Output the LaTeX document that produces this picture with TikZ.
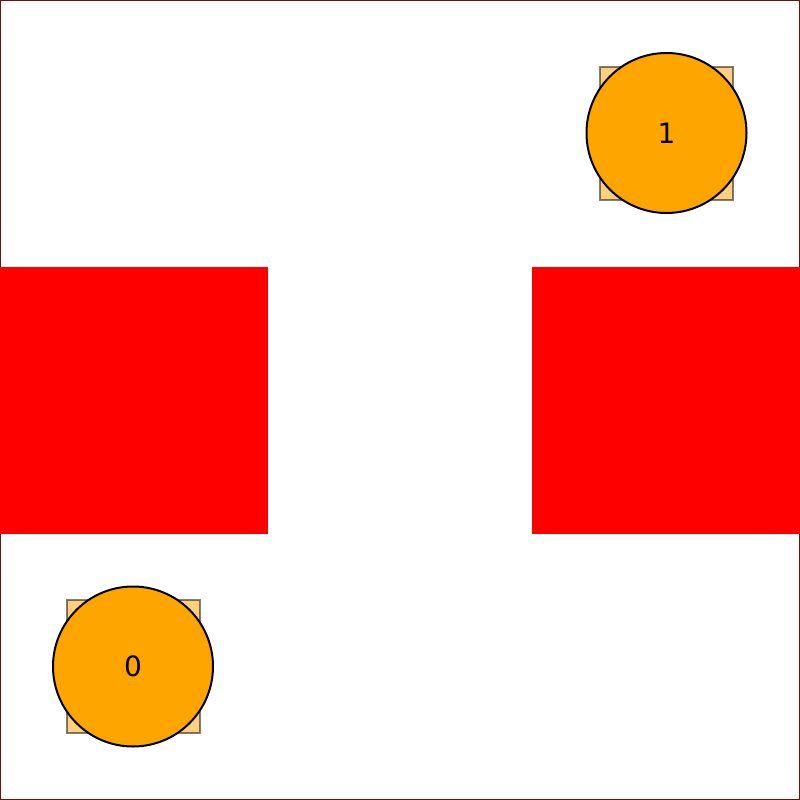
\documentclass[tikz,border=0pt]{standalone}
\usepackage{fontspec}
\setmainfont{DejaVu Sans}
\definecolor{agentorange}{HTML}{FFA500}
\definecolor{frame}{HTML}{6E1010}
\begin{document}
\begin{tikzpicture}[x=1pt,y=-1pt,
  obstacle/.style={fill=red,draw=none},
  footprint/.style={fill=agentorange,fill opacity=0.5,draw=black,draw opacity=0.5,line width=2.5pt},
  agent/.style={circle,fill=agentorange,draw=black,line width=2pt,minimum size=160pt,inner sep=0pt,font=\fontsize{28}{32}\selectfont}]
\useasboundingbox (0,0) rectangle (800,800);
\draw[draw=frame,line width=1.5pt,fill=white] (0,0) rectangle (800,800);
\fill[obstacle] (0,267) rectangle (268,534);
\fill[obstacle] (532,267) rectangle (800,534);
\draw[footprint] (600,67) rectangle (733,200);
\draw[footprint] (67,600) rectangle (200,733);
\node[agent] (a1) at (666.5,133) {1};
\node[agent] (a0) at (133,666.5) {0};
\end{tikzpicture}
\end{document}
